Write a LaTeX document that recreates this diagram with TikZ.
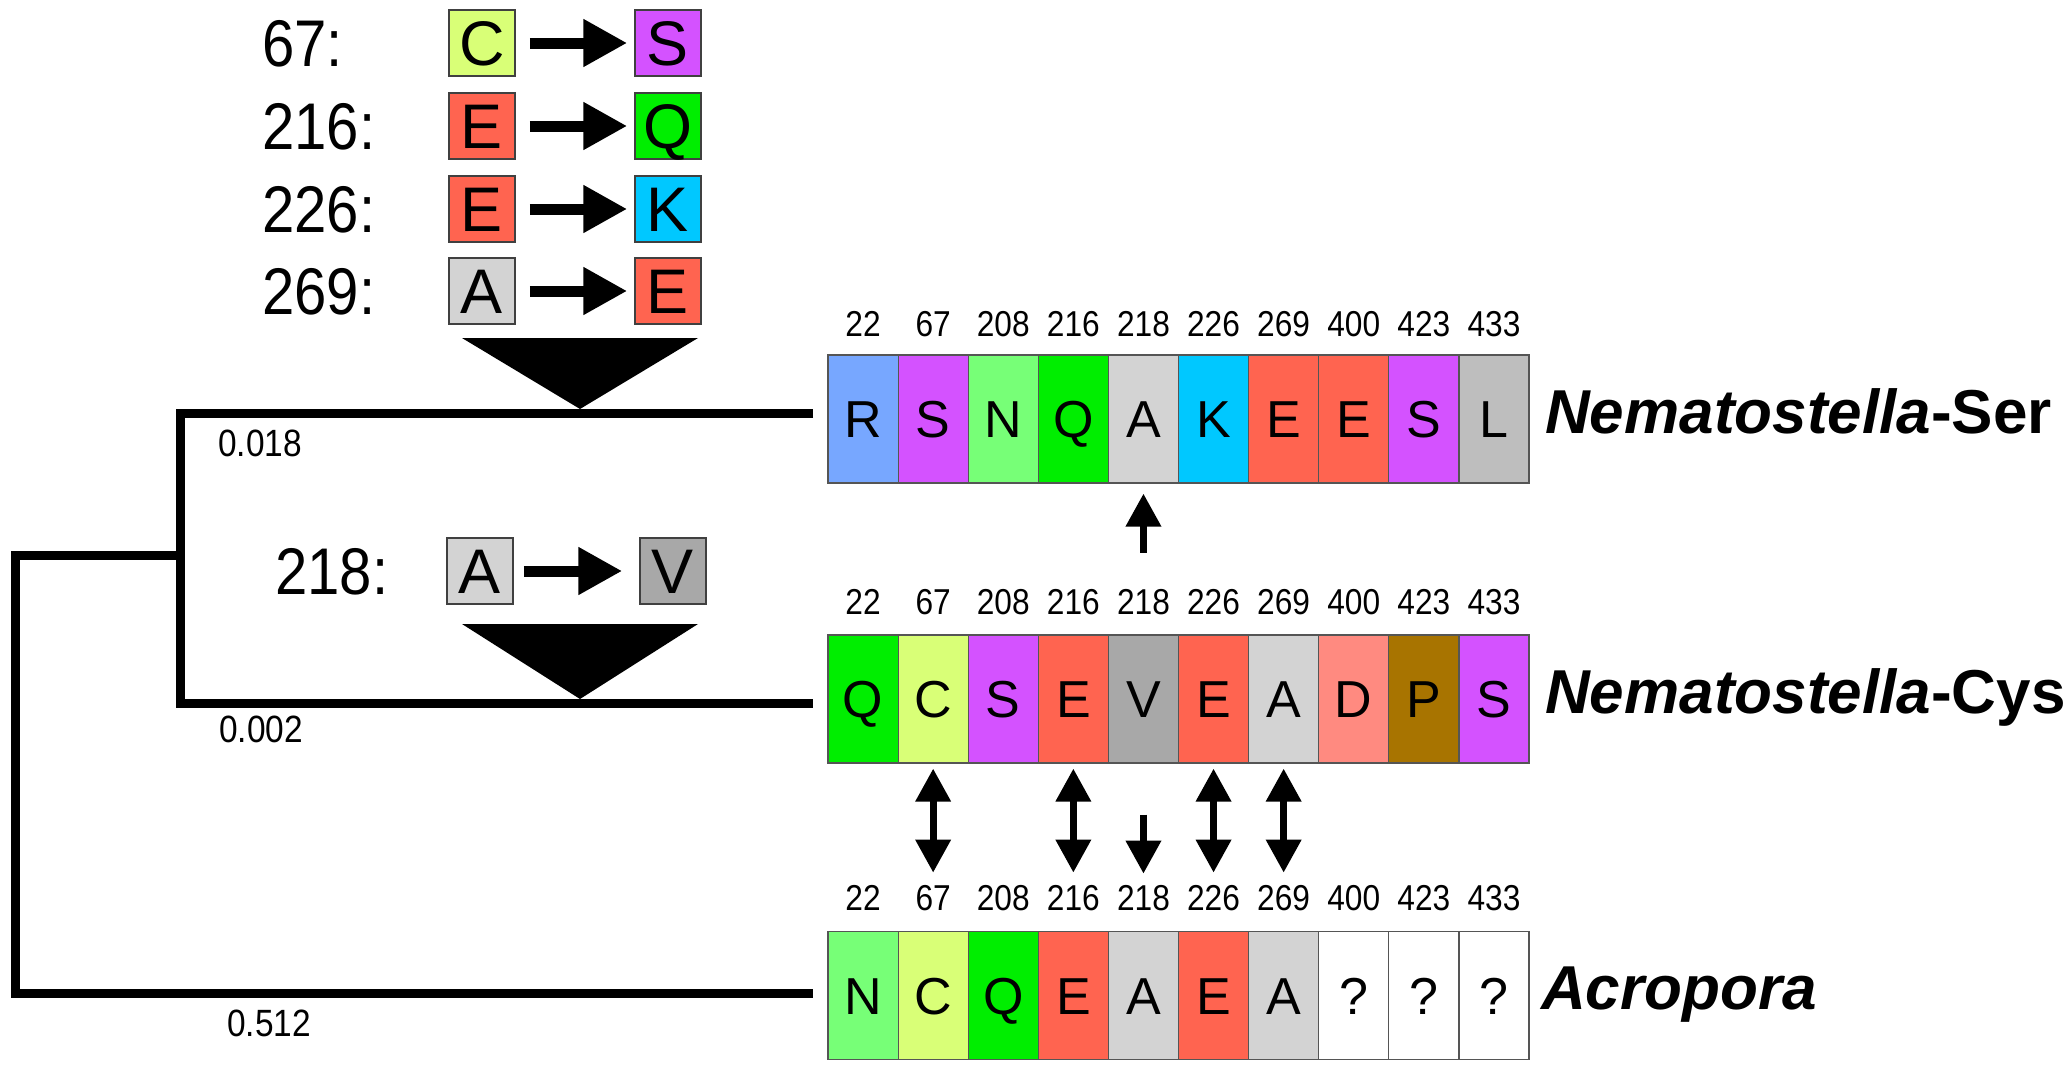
\documentclass[tikz,border=0pt]{standalone}
\usepackage{fontspec}
\setmainfont{Liberation Sans}
\newfontfamily\condfont[FakeStretch=0.88]{Liberation Sans}
\usetikzlibrary{arrows.meta}
\definecolor{colR}{HTML}{77A7FF}
\definecolor{colS}{HTML}{D452FF}
\definecolor{colN}{HTML}{77FF77}
\definecolor{colQ}{HTML}{00EE00}
\definecolor{colA}{HTML}{D3D3D3}
\definecolor{colK}{HTML}{00C8FF}
\definecolor{colE}{HTML}{FF6450}
\definecolor{colL}{HTML}{BEBEBE}
\definecolor{colC}{HTML}{D9FF77}
\definecolor{colV}{HTML}{A8A8A8}
\definecolor{colD}{HTML}{FF8A80}
\definecolor{colP}{HTML}{A87400}
\definecolor{colW}{HTML}{FFFFFF}
\definecolor{cellline}{HTML}{555555}
\definecolor{boxline}{HTML}{404040}
\begin{document}
\begin{tikzpicture}[x=1pt,y=-1pt,
  cell/.style={draw=cellline, line width=1.2pt, minimum width=70.1pt, minimum height=128pt, inner sep=0pt, text height=37pt, text depth=0pt, font=\fontsize{52}{52}\selectfont},
  mbox/.style={draw=boxline, line width=1.5pt, minimum size=66pt, inner sep=0pt, text height=45pt, text depth=0pt, font=\fontsize{63}{63}\selectfont},
  mlabel/.style={anchor=west, inner sep=0pt, text height=47pt, text depth=0pt, font=\condfont\fontsize{66}{66}\selectfont},
  posnum/.style={inner sep=0pt, text height=25.8pt, text depth=0pt, font=\condfont\fontsize{36}{36}\selectfont},
  brlabel/.style={anchor=west, inner sep=0pt, text height=27pt, text depth=0pt, font=\condfont\fontsize{38}{38}\selectfont},
  species/.style={anchor=base west, inner sep=0pt, font=\fontsize{62}{62}\selectfont\bfseries},
  branch/.style={line width=9pt, line join=miter},
  tri/.style={fill=black},
  mutarrow/.style={line width=11pt, -{Triangle[length=44pt,width=45pt]}},
  sarrow/.style={line width=7pt, -{Triangle[length=33pt,width=34pt]}},
  darrow/.style={line width=7pt, {Triangle[length=33pt,width=34pt]}-{Triangle[length=33pt,width=34pt]}}
]
\useasboundingbox (0,0) rectangle (2067,1071);

% ---- tree ----
\coordinate (serEnd) at (813,413);
\coordinate (cysEnd) at (813,703.5);
\coordinate (acrEnd) at (813,993);
\coordinate (inTop) at (180,413);
\coordinate (inBot) at (180,703.5);
\coordinate (inMid) at (180,555);
\coordinate (rootTop) at (15,555);
\coordinate (rootBot) at (15,993);
\draw[branch] (serEnd) -- (inTop) -- (inBot) -- (cysEnd);
\draw[branch] (inMid) -- (rootTop) -- (rootBot) -- (acrEnd);

\node[brlabel] (b1) at (218,442.5) {0.018};
\node[brlabel] (b2) at (219,729) {0.002};
\node[brlabel] (b3) at (227,1023) {0.512};

% ---- triangles ----
\fill[tri] (462,338) -- (698,338) -- (580,409) -- cycle;
\fill[tri] (462,624) -- (698,624) -- (580,699) -- cycle;

% ---- mutations (Ser branch) ----
\node[mlabel] (l67) at (262,43) {67:};
\node[mbox, fill=colC] (m1a) at (482,43) {C};
\node[mbox, fill=colS] (m1b) at (668,43) {S};
\node[mlabel] (l216) at (262,126) {216:};
\node[mbox, fill=colE] (m2a) at (482,126) {E};
\node[mbox, fill=colQ] (m2b) at (668,126) {Q};
\node[mlabel] (l226) at (262,209) {226:};
\node[mbox, fill=colE] (m3a) at (482,209) {E};
\node[mbox, fill=colK] (m3b) at (668,209) {K};
\node[mlabel] (l269) at (262,291) {269:};
\node[mbox, fill=colA] (m4a) at (482,291) {A};
\node[mbox, fill=colE] (m4b) at (668,291) {E};
\foreach \k in {1,2,3,4}
  \draw[mutarrow] ([xshift=14pt]m\k a.east) -- ([xshift=-7pt]m\k b.west);

% ---- mutation (Cys branch) ----
\node[mlabel] (l218) at (275,571) {218:};
\node[mbox, fill=colA] (m5a) at (480,571) {A};
\node[mbox, fill=colV] (m5b) at (673,571) {V};
\draw[mutarrow] ([xshift=10pt]m5a.east) -- ([xshift=-17pt]m5b.west);

% ---- sequence rows ----
\foreach \i/\aa/\col in {1/R/colR,2/S/colS,3/N/colN,4/Q/colQ,5/A/colA,6/K/colK,7/E/colE,8/E/colE,9/S/colS,10/L/colL}
  \node[cell, fill=\col] (ser\i) at ({863.05+70.1*(\i-1)},419) {\aa};
\foreach \i/\aa/\col in {1/Q/colQ,2/C/colC,3/S/colS,4/E/colE,5/V/colV,6/E/colE,7/A/colA,8/D/colD,9/P/colP,10/S/colS}
  \node[cell, fill=\col] (cys\i) at ({863.05+70.1*(\i-1)},699) {\aa};
\foreach \i/\aa/\col in {1/N/colN,2/C/colC,3/Q/colQ,4/E/colE,5/A/colA,6/E/colE,7/A/colA,8/?/colW,9/?/colW,10/?/colW}
  \node[cell, fill=\col] (acr\i) at ({863.05+70.1*(\i-1)},995.5) {\aa};

\foreach \i/\p in {1/22,2/67,3/208,4/216,5/218,6/226,7/269,8/400,9/423,10/433}{
  \node[posnum] (serp\i) at ({863.05+70.1*(\i-1)},324) {\p};
  \node[posnum] (cysp\i) at ({863.05+70.1*(\i-1)},602) {\p};
  \node[posnum] (acrp\i) at ({863.05+70.1*(\i-1)},898) {\p};
}

% ---- species labels ----
\node[species] (nser) at (1545,433) {\textit{Nematostella}-Ser};
\node[species] (ncys) at (1545,713) {\textit{Nematostella}-Cys};
\node[species] (nacr) at (1541,1009) {\textit{Acropora}};

% ---- change arrows ----
\draw[sarrow] ([yshift=-69pt]ser5.south) -- ([yshift=-10pt]ser5.south);
\foreach \i in {2,4,6,7}
  \draw[darrow] ([yshift=-5pt]cys\i.south) -- ([yshift=-109pt]cys\i.south);
\draw[sarrow] ([yshift=-51pt]cys5.south) -- ([yshift=-110pt]cys5.south);

\end{tikzpicture}
\end{document}
